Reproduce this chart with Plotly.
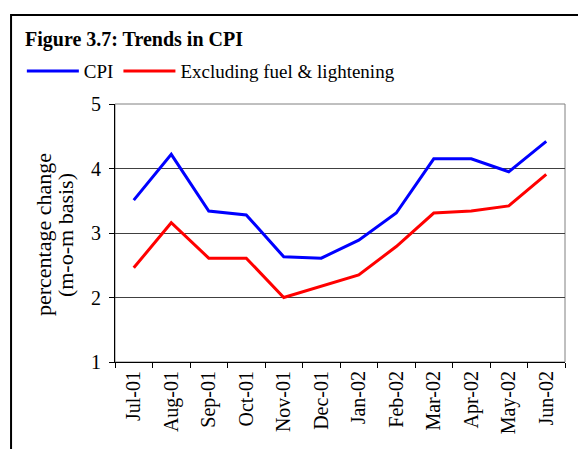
import plotly.graph_objects as go

# monthly CPI change, Jul-01 to Jun-02
months = ['Jul-01', 'Aug-01', 'Sep-01', 'Oct-01', 'Nov-01', 'Dec-01',
          'Jan-02', 'Feb-02', 'Mar-02', 'Apr-02', 'May-02', 'Jun-02']
cpi = [3.51, 4.22, 3.34, 3.28, 2.63, 2.61, 2.89, 3.31, 4.15, 4.15, 3.95, 4.42]
cpi_ex_fuel = [2.46, 3.16, 2.61, 2.61, 2.00, 2.17, 2.35, 2.79, 3.31, 3.34, 3.42, 3.91]

FONT = 'Liberation Serif'

fig = go.Figure()
fig.add_trace(go.Scatter(x=months, y=cpi, mode='lines', name='CPI',
                         line=dict(color='#0000FF', width=3)))
fig.add_trace(go.Scatter(x=months, y=cpi_ex_fuel, mode='lines',
                         name='Excluding fuel & lightening',
                         line=dict(color='#FF0000', width=3)))

# outer frame (left and top edges only, the rest runs off the picture)
frame = 'M -0.231,-1 L -0.231,1.345 L 2,1.345'

fig.update_layout(
    width=578, height=449,
    margin=dict(l=115, r=13, t=104, b=87, autoexpand=False),
    paper_bgcolor='white', plot_bgcolor='white',
    font=dict(family=FONT, size=20, color='black'),
    title=dict(text='<b>Figure 3.7: Trends in CPI</b>', x=25 / 578, xanchor='left',
               y=1 - 39 / 449, yanchor='middle', font=dict(size=20)),
    showlegend=True,
    legend=dict(orientation='h', x=-0.207, xanchor='left',
                y=1.201, yanchor='top', font=dict(size=19),
                bgcolor='rgba(0,0,0,0)', itemwidth=52, tracegroupgap=0),
    xaxis=dict(type='category', range=[-0.5, 11.5], showgrid=False,
               showline=True, linecolor='black', linewidth=1,
               ticks='outside', tickson='boundaries', ticklen=5,
               tickcolor='black', tickangle=-90, tickfont=dict(size=20),
               automargin=False),
    yaxis=dict(range=[1, 5], dtick=1, showgrid=True, gridcolor='#404040',
               gridwidth=1, showline=True, linecolor='black', linewidth=1,
               ticks='outside', ticklen=5, tickcolor='black',
               ticklabelstandoff=4, tickfont=dict(size=20), zeroline=False,
               automargin=False),
    shapes=[
        dict(type='rect', xref='paper', yref='paper', x0=0, x1=1, y0=0, y1=1,
             line=dict(color='#808080', width=1), layer='below'),
        dict(type='path', xref='paper', yref='paper', path=frame,
             line=dict(color='black', width=2)),
    ],
    annotations=[
        dict(text='percentage change', xref='paper', yref='paper',
             x=(43 - 115) / 450, y=0.492, xanchor='center', yanchor='middle',
             textangle=-90, showarrow=False, font=dict(size=22)),
        dict(text='(m-o-m basis)', xref='paper', yref='paper',
             x=(65 - 115) / 450, y=0.492, xanchor='center', yanchor='middle',
             textangle=-90, showarrow=False, font=dict(size=22)),
    ],
)

# drop the page's default body margin so the figure sits at 0,0
fig.write_html('out.html', config={'displayModeBar': False},
               post_script="document.body.style.margin='0';")
